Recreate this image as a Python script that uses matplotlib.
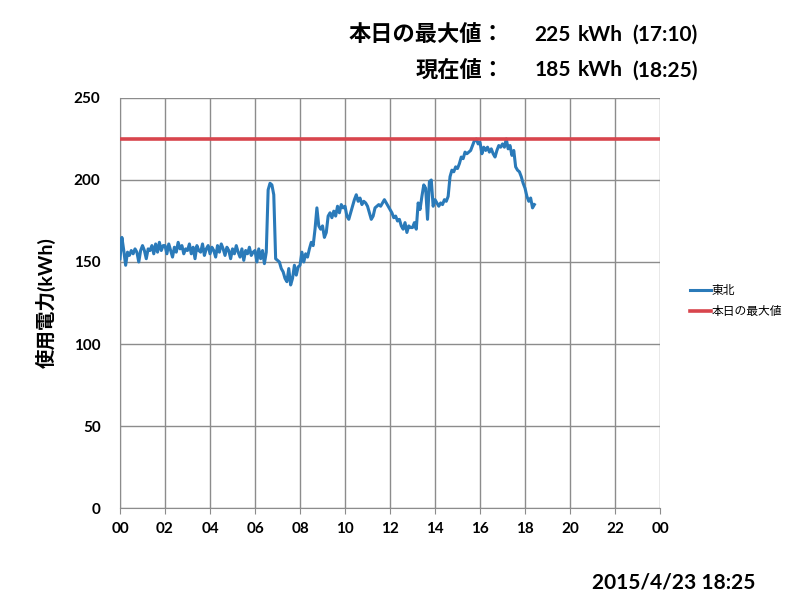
import matplotlib
matplotlib.use("Agg")
import matplotlib.pyplot as plt
import numpy as np

plt.rcParams['font.family'] = ['Lato', 'Noto Sans CJK JP', 'DejaVu Sans']

# 5-minute readings from 00:00 to 18:25 (kWh)
usage = [
    152, 165, 157, 148, 156, 154, 157, 155, 158, 156, 150, 157,   # 00h
    160, 157, 152, 158, 157, 160, 155, 161, 156, 162, 157, 160,   # 01h
    160, 155, 161, 157, 153, 159, 156, 162, 158, 160, 155, 158,   # 02h
    157, 161, 155, 159, 152, 160, 157, 156, 161, 154, 158, 160,   # 03h
    155, 159, 157, 153, 160, 156, 161, 158, 154, 159, 157, 152,   # 04h
    158, 155, 160, 156, 153, 158, 151, 157, 155, 159, 154, 156,   # 05h
    157, 150, 158, 152, 157, 149, 156, 194, 198, 197, 191, 152,   # 06h
    151, 150, 146, 144, 140, 138, 146, 136, 140, 148, 142, 147,   # 07h
    148, 156, 150, 155, 153, 158, 162, 160, 170, 183, 172, 170,   # 08h
    172, 165, 168, 178, 180, 177, 181, 178, 184, 180, 185, 183,   # 09h
    184, 178, 176, 180, 184, 188, 191, 187, 189, 185, 187, 186,   # 10h
    184, 180, 176, 178, 183, 184, 185, 184, 186, 188, 186, 184,   # 11h
    182, 180, 177, 178, 175, 176, 172, 170, 174, 168, 172, 171,   # 12h
    171, 174, 170, 186, 182, 190, 197, 195, 176, 199, 200, 184,   # 13h
    188, 186, 184, 186, 185, 188, 187, 190, 202, 206, 205, 208,   # 14h
    207, 210, 214, 213, 217, 216, 217, 218, 221, 224, 225, 222,   # 15h
    223, 216, 220, 218, 220, 217, 219, 216, 214, 218, 221, 220,   # 16h
    222, 220, 225, 219, 221, 215, 218, 208, 206, 205, 202, 198,   # 17h
    195, 190, 187, 189, 183, 185,                                 # 18h
]
hours = np.arange(len(usage)) * 5 / 60.0

max_value = 225
max_time = "17:10"
current_value = 185
current_time = "18:25"
stamp = "2015/4/23 18:25"

tick_hours = list(range(0, 25, 2))
tick_labels = ["00", "02", "04", "06", "08", "10", "12", "14", "16", "18", "20", "22", "00"]

fig = plt.figure(figsize=(7.98, 6.0), dpi=100)
ax = fig.add_axes([0.1504, 0.1533, 0.6767, 0.6834])

ax.plot(hours, usage, color='#2a7ab9', lw=2.2, label='東北', zorder=3)
ax.axhline(max_value, color='#d8454d', lw=2.6, label='本日の最大値', zorder=3)

ax.set_xlim(0, 24)
ax.set_ylim(0, 250)
ax.set_xticks(tick_hours)
ax.set_xticklabels(tick_labels)
ax.set_yticks(range(0, 251, 50))
ax.grid(True, color='#8c8c8c', lw=1.0)
ax.set_axisbelow(True)
for side in ['top', 'right']:
    ax.spines[side].set_visible(False)
for side in ['left', 'bottom']:
    ax.spines[side].set_color('#8c8c8c')
ax.tick_params(axis='x', length=4, color='#8c8c8c', pad=6, labelsize=11)
ax.tick_params(axis='y', length=0, pad=14, labelsize=11)
for lab in ax.get_xticklabels() + ax.get_yticklabels():
    lab.set_fontweight('bold')

ax.set_ylabel('使用電力(kWh)', fontsize=14, fontweight='bold', labelpad=13)

leg = ax.legend(loc='center left', bbox_to_anchor=(1.035, 0.505), frameon=False,
                fontsize=8.5, handlelength=1.8, handletextpad=0.1, labelspacing=0.85)

# header with today's peak and the latest reading
rows = [("本日の最大値：", max_value, max_time, 0.942),
        ("現在値：", current_value, current_time, 0.883)]
for label, val, t, y in rows:
    fig.text(0.632, y, label, ha='right', va='center', fontsize=16, fontweight='bold')
    fig.text(0.670, y, f"{val}", ha='left', va='center', fontsize=15, fontweight='bold')
    fig.text(0.724, y, "kWh", ha='left', va='center', fontsize=15, fontweight='bold')
    fig.text(0.792, y, f"({t})", ha='left', va='center', fontsize=15, fontweight='bold')

fig.text(0.946, 0.012, stamp, ha='right', va='bottom', fontsize=15, fontweight='bold')

fig.savefig('out.png', dpi=100, facecolor='white')
